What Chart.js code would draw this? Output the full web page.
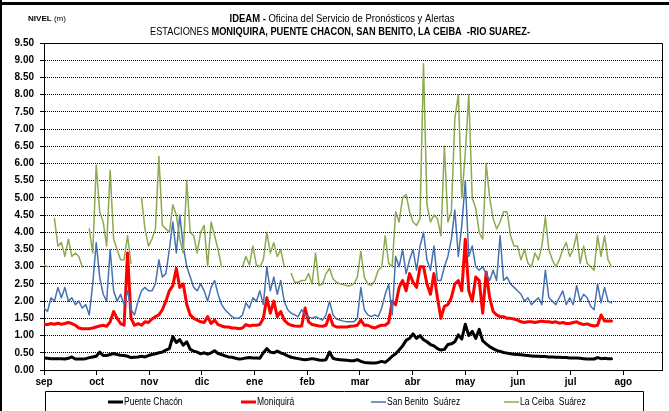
<!DOCTYPE html>
<html>
<head>
<meta charset="utf-8">
<script src="https://cdn.jsdelivr.net/npm/chart.js@4.4.0/dist/chart.umd.min.js"></script>
<style>
  html, body { margin: 0; padding: 0; background: #fff; }
  #wrap { width: 669px; height: 411px; }
</style>
</head>
<body>
<div id="wrap"><canvas id="chart" width="669" height="411"></canvas></div>
<script>
// month ticks (x in days from 1 sep), evenly spaced like the original
const monthTicks = [0, 30.25, 60.5, 90.75, 121, 151.25, 181.5, 211.75, 242, 272.25, 302.5, 332.75];
const monthLabels = ['sep', 'oct', 'nov', 'dic', 'ene', 'feb', 'mar', 'abr', 'may', 'jun', 'jul', 'ago'];
const stepDays = 2;

// nivel (m), one value every 2 days
const puenteChacon = [
  0.35, 0.34, 0.33, 0.33, 0.33, 0.33, 0.32, 0.34, 0.38, 0.32,
  0.32, 0.32, 0.33, 0.36, 0.38, 0.40, 0.52, 0.42, 0.42, 0.45,
  0.48, 0.45, 0.43, 0.42, 0.40, 0.36, 0.37, 0.38, 0.40, 0.38,
  0.42, 0.45, 0.47, 0.50, 0.52, 0.58, 0.62, 0.97, 0.80, 0.88,
  0.72, 0.82, 0.60, 0.55, 0.52, 0.47, 0.50, 0.46, 0.50, 0.56,
  0.48, 0.45, 0.41, 0.38, 0.37, 0.34, 0.32, 0.33, 0.35, 0.36,
  0.35, 0.35, 0.34, 0.50, 0.62, 0.52, 0.50, 0.55, 0.50, 0.46,
  0.41, 0.37, 0.35, 0.33, 0.31, 0.30, 0.31, 0.33, 0.31, 0.29,
  0.28, 0.30, 0.52, 0.34, 0.31, 0.30, 0.29, 0.28, 0.27, 0.27,
  0.30, 0.25, 0.22, 0.21, 0.20, 0.20, 0.22, 0.25, 0.22, 0.30,
  0.40, 0.47, 0.58, 0.70, 0.86, 0.92, 1.05, 0.92, 1.00, 0.88,
  0.82, 0.74, 0.70, 0.62, 0.58, 0.60, 0.74, 0.76, 0.82, 1.02,
  0.90, 1.33, 1.00, 1.12, 0.92, 1.18, 0.85, 0.76, 0.68, 0.62,
  0.57, 0.54, 0.51, 0.49, 0.47, 0.46, 0.45, 0.44, 0.43, 0.42,
  0.41, 0.40, 0.40, 0.39, 0.39, 0.38, 0.38, 0.37, 0.37, 0.36,
  0.36, 0.35, 0.35, 0.35, 0.34, 0.33, 0.32, 0.32, 0.32, 0.36,
  0.33, 0.34, 0.33, 0.33
];

const moniquira = [
  1.33, 1.32, 1.35, 1.33, 1.36, 1.33, 1.35, 1.38, 1.35, 1.30,
  1.22, 1.20, 1.20, 1.20, 1.22, 1.25, 1.28, 1.30, 1.27, 1.40,
  1.70, 1.50, 1.35, 1.30, 3.40, 1.50, 1.30, 1.35, 1.30, 1.40,
  1.38, 1.48, 1.55, 1.60, 1.75, 2.00, 2.30, 2.45, 2.95, 2.40,
  2.50, 1.90, 1.60, 1.50, 1.45, 1.40, 1.38, 1.55, 1.35, 1.45,
  1.32, 1.28, 1.25, 1.25, 1.22, 1.22, 1.20, 1.22, 1.32, 1.28,
  1.30, 1.30, 1.32, 1.50, 2.10, 1.65, 2.00, 1.55, 1.70, 1.45,
  1.35, 1.30, 1.28, 1.27, 1.28, 1.80, 1.40, 1.32, 1.30, 1.28,
  1.27, 1.30, 1.60, 1.30, 1.25, 1.25, 1.25, 1.25, 1.27, 1.28,
  1.30, 1.45, 1.30, 1.30, 1.25, 1.22, 1.27, 1.30, 1.30, 1.38,
  2.00, 1.90, 2.40, 2.60, 2.30, 2.80, 2.55, 2.40, 3.00, 3.00,
  2.50, 2.20, 2.80, 2.10, 1.50, 1.85, 1.90, 2.10, 2.50, 2.60,
  2.30, 3.80, 2.30, 2.00, 2.70, 2.60, 1.65, 2.85, 2.10, 1.70,
  1.60, 1.55, 1.55, 1.50, 1.50, 1.48, 1.45, 1.40, 1.38, 1.40,
  1.40, 1.38, 1.40, 1.42, 1.40, 1.40, 1.38, 1.40, 1.36, 1.38,
  1.35, 1.35, 1.38, 1.40, 1.35, 1.32, 1.34, 1.30, 1.28, 1.30,
  1.60, 1.42, 1.42, 1.42
];

const sanBenito = [
  1.80, 1.70, 2.10, 2.00, 2.40, 2.10, 2.40, 2.00, 2.10, 1.90,
  2.00, 1.80, 1.90, 1.60, 2.50, 3.70, 2.70, 2.20, 2.00, 3.50,
  2.30, 2.00, 2.20, 1.90, 2.30, 1.75, 1.60, 2.00, 2.30, 2.40,
  2.30, 2.30, 2.50, 3.20, 2.70, 2.80, 3.50, 4.30, 3.40, 4.50,
  3.60, 3.00, 2.70, 2.40, 2.30, 2.50, 2.30, 2.00, 2.40, 2.60,
  2.20, 1.90, 1.75, 1.65, 1.55, 1.50, 1.50, 1.60, 1.95, 1.80,
  2.10, 2.00, 2.30, 1.90, 3.00, 2.30, 2.70, 2.20, 2.60, 2.00,
  1.75, 1.65, 1.60, 1.55, 1.75, 1.60, 1.55, 1.50, 1.55, 1.50,
  1.45, 1.60, 2.00, 1.60, 1.48, 1.45, 1.42, 1.40, 1.40, 1.40,
  1.50, 2.40, 1.75, 1.60, 1.55, 1.60, 1.55, 1.80, 2.20, 2.50,
  1.60, 3.30, 3.00, 3.50, 2.80, 3.20, 3.50, 2.90, 3.60, 4.00,
  3.20, 2.90, 3.60, 2.60, 2.60, 3.00, 3.30, 3.80, 4.65, 3.30,
  4.20, 5.50, 3.30, 3.60, 3.00, 2.90, 3.00, 2.80, 2.60, 2.90,
  2.60, 3.90, 2.60, 2.70, 2.50, 2.40, 2.30, 2.20, 2.00, 2.10,
  1.90, 2.00, 2.10, 1.90, 2.90, 2.10, 2.00, 1.90, 2.10, 2.30,
  1.90, 2.10, 1.90, 2.45, 2.00, 2.20, 2.10, 1.85, 1.75, 2.50,
  1.95, 2.40, 2.00, 1.95
];

// null = no reading
const laCeiba = [
  3.05, 3.00, null, 4.40, 3.60, 3.70, 3.30, 3.80, 3.30, 3.40,
  3.30, 3.00, null, 4.10, 3.40, 5.95, 4.60, 4.30, 3.60, 5.80,
  3.80, 3.50, 3.20, 3.20, 3.90, 3.10, null, null, 5.00, 4.10,
  3.60, 3.80, 4.10, 6.20, 4.20, 4.10, 4.00, 4.80, 4.50, 3.80,
  3.40, 5.50, 4.00, 3.90, 3.40, 4.00, 4.20, 3.00, 4.30, 3.90,
  3.50, 3.00, null, null, null, null, null, 3.00, 3.30, 3.05,
  3.60, 3.05, 3.00, 3.20, 4.00, 3.40, 3.70, 3.30, 3.50, 3.00,
  null, 2.80, 2.55, 2.55, 2.60, 2.60, 2.80, 2.50, 3.40, 2.45,
  2.50, 2.80, 2.95, 2.65, 2.55, 2.50, 2.48, 2.45, 2.45, 2.50,
  2.70, 3.45, 2.70, 2.50, 2.45, 2.60, 2.90, 3.00, 3.90, 3.10,
  3.00, 4.60, 4.30, 5.00, 5.10, 4.60, 4.30, 4.20, 4.40, 8.90,
  4.80, 4.30, 4.50, 4.40, 3.90, 6.50, 4.30, 4.60, 7.30, 8.00,
  5.00, 6.30, 8.00, 5.00, 4.70, 4.00, 3.80, 6.00, 5.00, 4.40,
  4.10, 4.30, 4.60, 4.60, 3.90, 3.60, 3.60, 3.20, 3.50, 3.10,
  3.00, 3.40, 3.20, 3.60, 4.45, 3.50, 3.20, 3.00, 3.20, 3.50,
  3.70, 3.30, 3.50, 3.95, 3.10, 3.60, 3.10, 3.00, 2.90, 3.90,
  3.30, 3.90, 3.20, 3.00
];

const seriesNames = ['Puente Chacón', 'Moniquirá', 'San Benito  Suárez', 'La Ceiba  Suárez'];
const seriesColors = ['#000000', '#ff0000', '#4672b0', '#8caa50'];

const toPoints = vals => vals.map((v, i) => ({ x: i * stepDays, y: v }));

const FONT = "'Liberation Sans', Arial, sans-serif";

// draws a line of text made of bold/regular pieces, squeezed to a target width
function drawRuns(ctx, runs, cx, y, size, targetWidth) {
  let total = 0;
  runs.forEach(r => {
    ctx.font = (r.bold ? 'bold ' : '') + size + 'px ' + FONT;
    r.w = ctx.measureText(r.text).width;
    total += r.w;
  });
  const sx = targetWidth ? targetWidth / total : 1;
  ctx.save();
  ctx.translate(cx - total * sx / 2, y);
  ctx.scale(sx, 1);
  let x = 0;
  runs.forEach(r => {
    ctx.font = (r.bold ? 'bold ' : '') + size + 'px ' + FONT;
    ctx.fillText(r.text, x, 0);
    x += r.w;
  });
  ctx.restore();
}

const decorPlugin = {
  id: 'decor',
  afterDraw(chart) {
    const ctx = chart.ctx;
    const area = chart.chartArea;
    ctx.save();
    // outer frame
    ctx.fillStyle = '#000';
    ctx.fillRect(0, 2, chart.width, 3);
    ctx.fillRect(0, 0, 2, chart.height);

    // plot frame (top and right)
    ctx.strokeStyle = '#000';
    ctx.lineWidth = 1;
    ctx.beginPath();
    ctx.moveTo(area.left, area.top + 0.5);
    ctx.lineTo(area.right + 0.5, area.top + 0.5);
    ctx.lineTo(area.right + 0.5, area.bottom);
    ctx.stroke();

    // titles
    ctx.fillStyle = '#000';
    ctx.textBaseline = 'alphabetic';
    drawRuns(ctx, [{ text: 'IDEAM - ', bold: true }, { text: 'Oficina del Servicio de Pronósticos y Alertas' }], 342, 22, 11, 225);
    drawRuns(ctx, [{ text: 'ESTACIONES ' }, { text: 'MONIQUIRA, PUENTE CHACON, SAN BENITO, LA CEIBA  -RIO SUAREZ-', bold: true }], 340, 35, 11, 380);
    drawRuns(ctx, [{ text: 'NIVEL ', bold: true }, { text: '(m)' }], 47, 21, 8, 38);

    // legend box
    const lx = 45, ly = 391, lw = 598;
    ctx.strokeStyle = '#000';
    ctx.beginPath();
    ctx.moveTo(lx + 0.5, chart.height);
    ctx.lineTo(lx + 0.5, ly + 0.5);
    ctx.lineTo(lx + lw + 0.5, ly + 0.5);
    ctx.lineTo(lx + lw + 0.5, chart.height);
    ctx.stroke();
    const itemX = [108, 241, 371, 504];
    chart.data.datasets.forEach((ds, i) => {
      const x = itemX[i], y = 402;
      ctx.strokeStyle = ds.borderColor;
      ctx.lineWidth = ds.borderWidth;
      ctx.beginPath();
      ctx.moveTo(x, y);
      ctx.lineTo(x + 15, y);
      ctx.stroke();
      ctx.fillStyle = '#000';
      ctx.textBaseline = 'middle';
      ctx.save();
      ctx.translate(x + 16, y);
      ctx.scale(0.85, 1);
      ctx.font = '10px ' + FONT;
      ctx.fillText(ds.label, 0, 0);
      ctx.restore();
    });
    ctx.restore();
  }
};

const chart = new Chart(document.getElementById('chart'), {
  type: 'line',
  data: {
    datasets: [
      { label: seriesNames[0], data: toPoints(puenteChacon), borderColor: seriesColors[0], borderWidth: 3, order: 4 },
      { label: seriesNames[1], data: toPoints(moniquira), borderColor: seriesColors[1], borderWidth: 3, order: 3 },
      { label: seriesNames[2], data: toPoints(sanBenito), borderColor: seriesColors[2], borderWidth: 1.5, order: 2 },
      { label: seriesNames[3], data: toPoints(laCeiba), borderColor: seriesColors[3], borderWidth: 1.5, order: 1 }
    ]
  },
  options: {
    responsive: false,
    animation: false,
    spanGaps: false,
    elements: {
      point: { radius: 0 },
      line: { tension: 0, borderJoinStyle: 'round', borderCapStyle: 'round' }
    },
    layout: { padding: { left: 2, top: 43, right: 7, bottom: 21 } },
    plugins: {
      legend: { display: false },
      title: { display: false },
      tooltip: { enabled: false }
    },
    scales: {
      x: {
        type: 'linear',
        min: 0,
        max: 355,
        afterBuildTicks: scale => { scale.ticks = monthTicks.map(v => ({ value: v })); },
        afterFit: scale => { scale.height = 20; },
        ticks: {
          autoSkip: false,
          maxRotation: 0,
          padding: 1,
          color: '#000',
          font: { family: FONT, size: 10, weight: 'bold' },
          callback: value => monthLabels[monthTicks.indexOf(value)]
        },
        grid: { drawOnChartArea: false, drawTicks: true, tickLength: 5, tickColor: '#000' },
        border: { color: '#000', width: 1 }
      },
      y: {
        min: 0,
        max: 9.5,
        afterFit: scale => { scale.width = 42; },
        ticks: {
          stepSize: 0.5,
          padding: 6,
          color: '#000',
          font: { family: FONT, size: 10, weight: 'bold' },
          callback: value => value.toFixed(2)
        },
        grid: { color: '#000', lineWidth: 1, tickLength: 4, tickColor: '#000' },
        border: { color: '#000', width: 1, dash: [1, 1] }
      }
    }
  },
  plugins: [decorPlugin]
});
</script>
</body>
</html>
